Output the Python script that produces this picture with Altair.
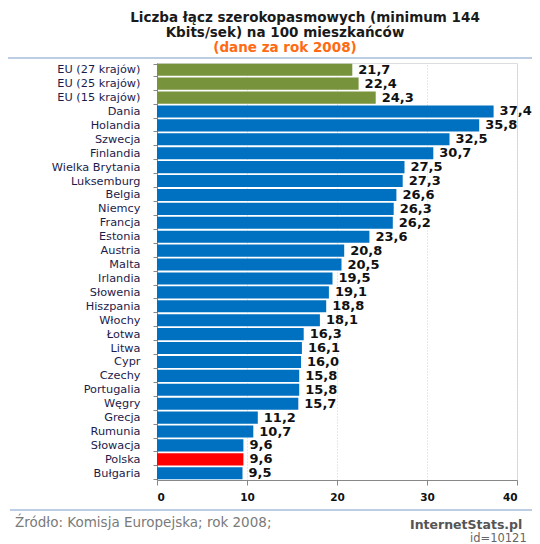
import altair as alt
import pandas as pd

countries = ["EU (27 krajów)", "EU (25 krajów)", "EU (15 krajów)", "Dania", "Holandia", "Szwecja",
             "Finlandia", "Wielka Brytania", "Luksemburg", "Belgia", "Niemcy", "Francja", "Estonia",
             "Austria", "Malta", "Irlandia", "Słowenia", "Hiszpania", "Włochy", "Łotwa", "Litwa",
             "Cypr", "Czechy", "Portugalia", "Węgry", "Grecja", "Rumunia", "Słowacja", "Polska", "Bułgaria"]
values = [21.7, 22.4, 24.3, 37.4, 35.8, 32.5, 30.7, 27.5, 27.3, 26.6, 26.3, 26.2, 23.6,
          20.8, 20.5, 19.5, 19.1, 18.8, 18.1, 16.3, 16.1, 16.0, 15.8, 15.8, 15.7, 11.2, 10.7, 9.6, 9.6, 9.5]
groups = ["eu"] * 3 + ["kraj"] * 25 + ["pl"] + ["kraj"]
x_ticks = [0, 10, 20, 30, 40]

title_line1 = "Liczba łącz szerokopasmowych  (minimum 144"
title_line2 = "Kbits/sek) na 100 mieszkańców"
subtitle = "(dane za rok 2008)"
source = "Źródło: Komisja Europejska; rok 2008;"
brand_text = "InternetStats.pl"
id_text = "id=10121"

df = pd.DataFrame({"kraj": countries, "v": values, "g": groups})

FONT = "DejaVu Sans"
W, H = 360, 417

y_enc = alt.Y("kraj:N", sort=countries, title=None,
              scale=alt.Scale(paddingInner=0.13, paddingOuter=0.05),
              axis=alt.Axis(labelFont=FONT, labelFontSize=11.3, labelColor="#1c1c4c",
                            labelPadding=13, tickBand="extent", tickSize=4, tickColor="#888888",
                            domainColor="#888888", ticks=True))
x_enc = alt.X("v:Q", title=None, scale=alt.Scale(domain=[0, 40], nice=False),
              axis=alt.Axis(values=x_ticks, labelFont=FONT, labelFontSize=10.5, labelFontWeight="bold",
                            labelColor="#111111", labelPadding=7, tickSize=5, tickColor="#888888",
                            domainColor="#888888", grid=True, gridColor="#d0d0d0",
                            gridDash=[1, 2], format="d"))

bars = alt.Chart(df).mark_bar().encode(
    y=y_enc, x=x_enc,
    color=alt.Color("g:N", scale=alt.Scale(domain=["eu", "kraj", "pl"],
                                           range=["#77933C", "#0070C0", "#FF0000"]), legend=None),
)
labels = alt.Chart(df).transform_calculate(
    lab="replace(format(datum.v, '.1f'), '.', ',')"
).mark_text(align="left", baseline="middle", dx=6, font=FONT, fontSize=13,
            fontWeight="bold", color="#111111").encode(
    y=alt.Y("kraj:N", sort=countries), x="v:Q", text="lab:N")

one = pd.DataFrame({"k": [1]})


def txt(text, x, y, size, color, weight="normal", align="center"):
    return alt.Chart(one).mark_text(align=align, baseline="middle", font=FONT, fontSize=size,
                                    fontWeight=weight, color=color).encode(
        x=alt.value(x), y=alt.value(y), text=alt.value(text))


t1 = txt(title_line1, 148, -45, 13.5, "#1a1a1a", "bold")
t2 = txt(title_line2, 128, -30, 13.5, "#1a1a1a", "bold")
t3 = txt(subtitle, 128, -15, 13.5, "#FF6A13", "bold")

top_line = alt.Chart(one).mark_rule(color="#7b9cc9", strokeWidth=1.2).encode(
    x=alt.value(-157), x2=alt.value(383), y=alt.value(-5))
bot_line = alt.Chart(one).mark_rule(color="#7b9cc9", strokeWidth=1.2).encode(
    x=alt.value(-147), x2=alt.value(383), y=alt.value(447))
src = txt(source, -142, 460, 13.5, "#7a7a7a", align="left")
brand = txt(brand_text, 253, 462, 12.5, "#555555", "bold", align="left")
ident = txt(id_text, 313, 475.5, 11.5, "#666666", align="left")

chart = alt.layer(bars, labels, t1, t2, t3, top_line, bot_line, src, brand, ident).properties(
    width=W, height=H,
    autosize=alt.AutoSizeParams(type="none"),
    padding={"left": 149, "top": 55, "right": 15, "bottom": 64},
).configure_view(stroke=None).configure(background="white")

chart.save("out.html", embed_options={"renderer": "svg", "actions": False})
